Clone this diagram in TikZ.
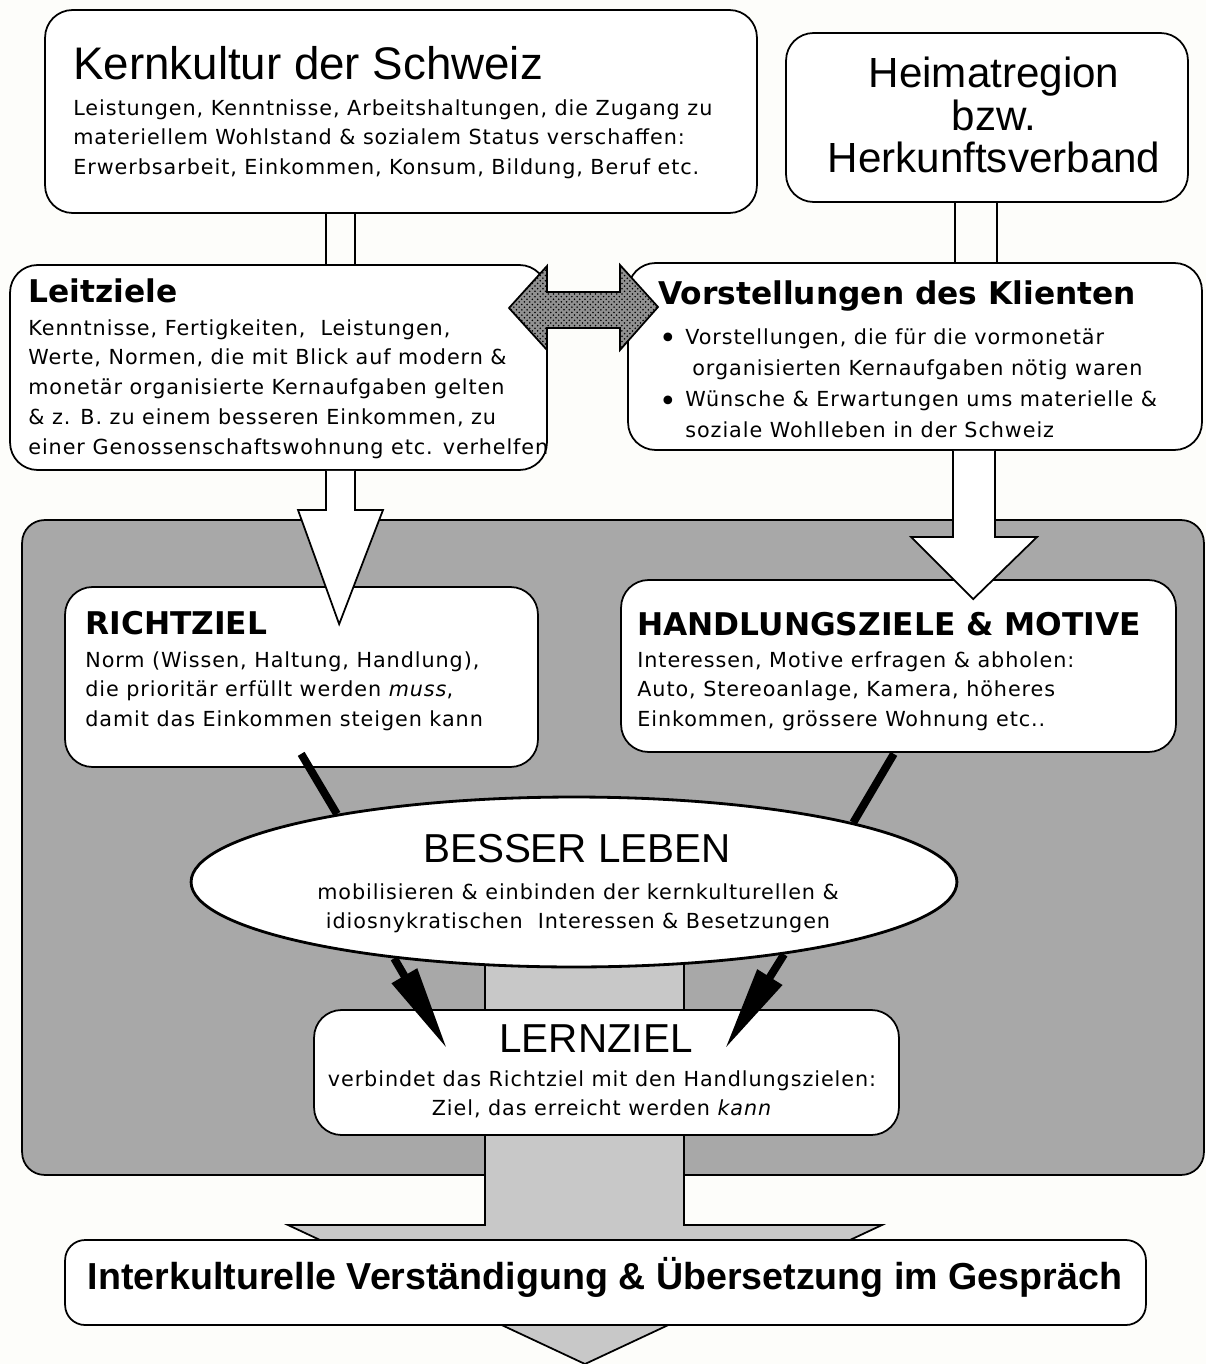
\documentclass[tikz,border=0pt]{standalone}
\usepackage{fontspec}
\setmainfont{DejaVu Sans}
\newfontfamily\headfont{Liberation Sans}
\newfontfamily\bodyfam{DejaVu Sans}[LetterSpace=4.5]
\usetikzlibrary{calc,shapes.geometric,arrows.meta,patterns}
\definecolor{PaperClr}{RGB}{253,253,250}
\definecolor{PanelClr}{RGB}{168,168,168}
\definecolor{ShaftClr}{RGB}{200,200,200}
\definecolor{HatchClr}{RGB}{145,145,145}
\newcommand{\bodyfont}{\bodyfam\fontsize{11.8}{17}\selectfont}
\newcommand{\bigdot}{\llap{\raisebox{-2.5pt}{\fontsize{17}{17}\selectfont\textbullet}\hspace{0.17cm}}}

\begin{document}
\begin{tikzpicture}[x=0.02cm,y=0.02cm,
  box/.style={draw,line width=1pt,fill=white,rounded corners=0.55cm,inner sep=0pt},
  body/.style={font=\bodyfont,align=left,inner sep=0pt,anchor=north west},
  bighead/.style={font=\headfont\fontsize{26}{26}\selectfont,inner sep=0pt,anchor=base west},
  boldhead/.style={font=\bfseries\fontsize{17.8}{17.8}\selectfont,inner sep=0pt,anchor=base west},
  blockarrow/.style={draw,line width=1pt,fill=white},
  thickline/.style={line width=4.5pt}]
\useasboundingbox[fill=PaperClr] (0,0) rectangle (1206,-1364);

% upper boxes
\node[box,minimum width=14.24cm,minimum height=4.06cm] (kern) at (401,-111.5) {};
\node[box,minimum width=8.04cm,minimum height=3.38cm] (heim) at (987,-117.5) {};
\node[box,minimum width=10.74cm,minimum height=4.1cm] (leit) at (278.5,-367.5) {};
\node[box,minimum width=11.48cm,minimum height=3.74cm] (vorst) at (915,-356.5) {};

\draw[line width=1pt] (326,0 |- kern.south) -- (326,0 |- leit.north)
  (355,0 |- kern.south) -- (355,0 |- leit.north);
\draw[line width=1pt] (955,0 |- heim.south) -- (955,0 |- vorst.north)
  (997,0 |- heim.south) -- (997,0 |- vorst.north);

\node[bighead] (kerntitle) at (73,-80) {Kernkultur der Schweiz};
\node[body] (kerntext) at (73,-99) {Leistungen, Kenntnisse, Arbeitshaltungen, die Zugang zu\\
  materiellem Wohlstand \& sozialem Status verschaffen:\\
  Erwerbsarbeit, Einkommen, Konsum, Bildung, Beruf etc.};
\node[font=\headfont\fontsize{24}{24.2}\selectfont,align=center,inner sep=0pt,anchor=north]
  (heimtext) at (994,-57) {Heimatregion\\bzw.\\Herkunftsverband};

\node[boldhead] (leittitle) at (28,-303) {Leitziele};
\node[body] (leittext) at (28,-319) {Kenntnisse, Fertigkeiten,\ \ Leistungen,\\
  Werte, Normen, die mit Blick auf modern \&\\
  monetär organisierte Kernaufgaben gelten\\
  \& z. B. zu einem besseren Einkommen, zu\\
  einer Genossenschaftswohnung etc. verhelfen};

\node[boldhead] (vorsttitle) at (658,-305) {Vorstellungen des Klienten};
\node[body,font=\bodyfam\fontsize{11.8}{17.8}\selectfont] (vorsttext) at (685,-328)
  {\bigdot Vorstellungen, die für die vormonetär\\
  \hspace{0.14cm}organisierten Kernaufgaben nötig waren\\
  \bigdot Wünsche \& Erwartungen ums materielle \&\\
  soziale Wohlleben in der Schweiz};

% hatched double arrow
\draw[line width=1pt,preaction={fill=HatchClr},pattern=crosshatch dots,pattern color=black]
  (509,-308) -- (547,-266) -- (547,-292) -- (620,-292) -- (620,-265) -- (658,-307)
  -- (620,-350) -- (620,-328) -- (547,-328) -- (547,-350) -- cycle;

% grey panel
\node[draw,line width=1pt,fill=PanelClr,rounded corners=0.45cm,inner sep=0pt,
  minimum width=23.64cm,minimum height=13.1cm] (panel) at (613,-847.5) {};

% light grey arrow to the bottom
\coordinate (tipbot) at (585,-1364);
\draw[blockarrow,fill=ShaftClr] (485,-930) -- (485,-1225) -- (288,-1225) -- (tipbot)
  -- (882,-1225) -- (684,-1225) -- (684,-930);

\node[box,minimum width=9.46cm,minimum height=3.6cm] (richt) at (301.5,-677) {};
\node[box,minimum width=11.1cm,minimum height=3.44cm] (handl) at (898.5,-666) {};
\node[box,minimum width=11.7cm,minimum height=2.5cm] (lern) at (606.5,-1072.5) {};
\node[draw,line width=1.6pt,fill=white,ellipse,inner sep=0pt,
  minimum width=15.32cm,minimum height=3.4cm] (besser) at (574,-882) {};
\node[box,rounded corners=0.4cm,minimum width=21.62cm,minimum height=1.7cm] (inter) at (605.5,-1282.5) {};

% white arrows into the panel
\draw[blockarrow] (326,0 |- leit.south) -- (326,-510) -- (298,-510)
  -- ($(richt.north west)+(275,-38)$) -- (383,-510) -- (355,-510) -- (355,0 |- leit.south);
\draw[blockarrow] (953,0 |- vorst.south) -- (953,-537) -- (911,-537)
  -- ($(handl.north west)+(353,-20)$) -- (1037,-537) -- (995,-537) -- (995,0 |- vorst.south);

\node[boldhead] (richttitle) at (85,-634) {RICHTZIEL};
\node[body] (richttext) at (85,-651) {Norm (Wissen, Haltung, Handlung),\\
  die prioritär erfüllt werden \textit{muss},\\
  damit das Einkommen steigen kann};

\node[boldhead] (handltitle) at (637,-635) {HANDLUNGSZIELE \& MOTIVE};
\node[body] (handltext) at (637,-651) {Interessen, Motive erfragen \& abholen:\\
  Auto, Stereoanlage, Kamera, höheres\\
  Einkommen, grössere Wohnung etc..};

\node[font=\headfont\fontsize{23}{23}\selectfont,inner sep=0pt,anchor=base]
  (bessertitle) at (577,-862) {BESSER LEBEN};
\node[body,align=center,anchor=north] (bessertext) at (578,-883)
  {mobilisieren \& einbinden der kernkulturellen \&\\
  idiosnykratischen\ \ Interessen \& Besetzungen};

\node[font=\headfont\fontsize{23}{23}\selectfont,inner sep=0pt,anchor=base]
  (lerntitle) at (596,-1052) {LERNZIEL};
\node[body,align=center,anchor=north] (lerntext) at (602,-1070)
  {verbindet das Richtziel mit den Handlungszielen:\\
  Ziel, das erreicht werden \textit{kann}};

% black connectors
\draw[thickline] ($(richt.south west)+(237,14)$) -- (besser.164);
\draw[thickline] ($(handl.south east)+(-283,-1)$) -- (besser.12);
\draw[thickline,-{Triangle[length=1.7cm,width=0.55cm]}] (besser.203)
  -- ($(lern.north west)+(134,-40)$);
\draw[thickline,-{Triangle[length=1.7cm,width=0.55cm]}] (besser.341)
  -- ($(lern.north east)+(-175,-40)$);

\node[font=\headfont\bfseries\fontsize{21.4}{21.4}\selectfont,inner sep=0pt,anchor=base]
  (intertext) at (605,-1289) {Interkulturelle Verständigung \& Übersetzung im Gespräch};

\end{tikzpicture}
\end{document}
